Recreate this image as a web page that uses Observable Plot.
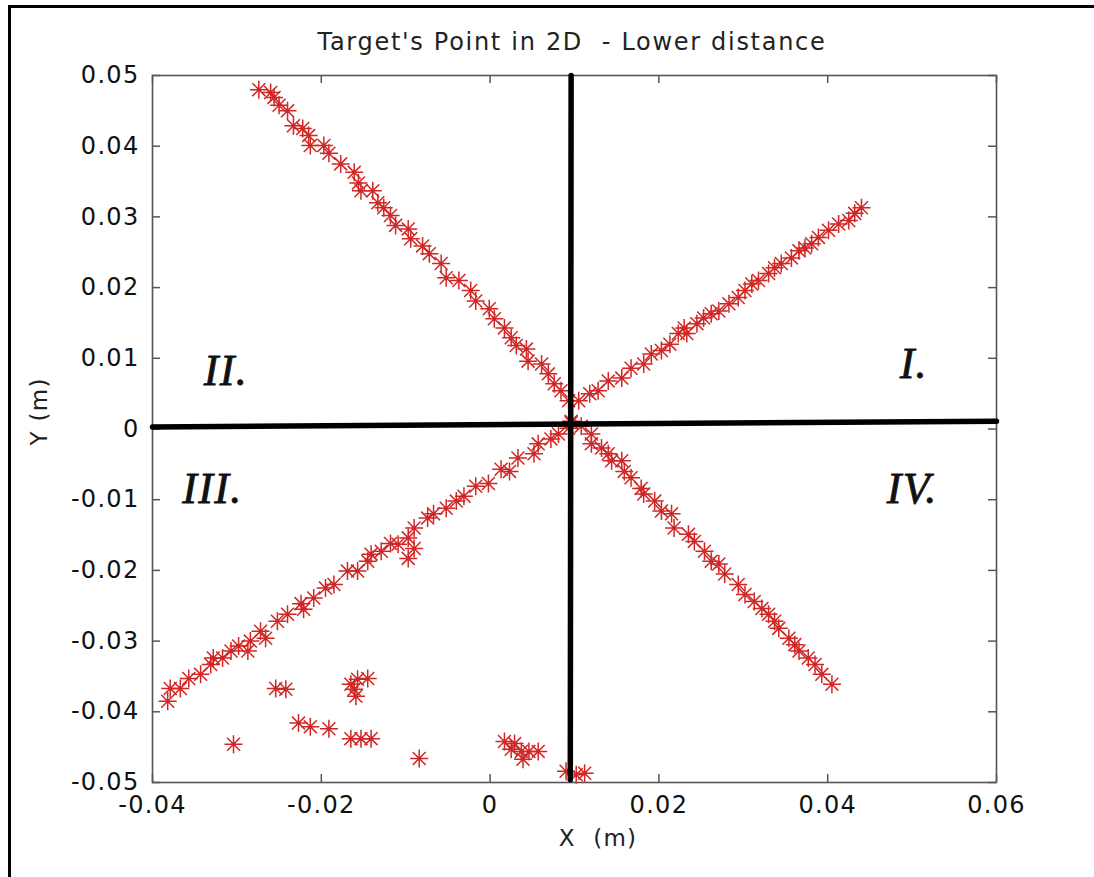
<!DOCTYPE html>
<html><head><meta charset="utf-8">
<script src="https://cdn.jsdelivr.net/npm/d3@7"></script>
<script src="https://cdn.jsdelivr.net/npm/@observablehq/plot@0.6"></script>
<style>
html,body{margin:0;padding:0;background:#fff;}
#wrap{position:relative;width:1094px;height:877px;overflow:hidden;background:#fff;}
#frame{position:absolute;left:8px;top:5px;width:1100px;height:900px;border-left:3px solid #000;border-top:3px solid #000;}
#chart{position:absolute;left:0;top:0;}
#title{position:absolute;left:0;width:1144px;top:28px;text-align:center;font-family:"DejaVu Sans";font-size:24px;letter-spacing:1.7px;white-space:pre;color:#222;}
</style></head>
<body><div id="wrap"><div id="frame"></div><div id="chart"></div><div id="title">Target's Point in 2D  - Lower distance</div></div>
<script>
// Quadrant I arm (upper right)
const armI = [[0.0105,0.0040],[0.0118,0.0050],[0.0128,0.0054],[0.0140,0.0068],[0.0156,0.0072],[0.0167,0.0086],[0.0182,0.0092],[0.0191,0.0106],[0.0203,0.0111],[0.0213,0.0120],[0.0223,0.0135],[0.0230,0.0143],[0.0233,0.0135],[0.0245,0.0149],[0.0253,0.0157],[0.0262,0.0163],[0.0271,0.0167],[0.0283,0.0177],[0.0294,0.0186],[0.0302,0.0196],[0.0310,0.0205],[0.0318,0.0210],[0.0330,0.0220],[0.0337,0.0228],[0.0345,0.0234],[0.0357,0.0242],[0.0366,0.0252],[0.0373,0.0256],[0.0381,0.0262],[0.0389,0.0271],[0.0401,0.0281],[0.0413,0.0290],[0.0425,0.0295],[0.0432,0.0305],[0.0440,0.0313]];
// Quadrant II arm (upper left)
const armII = [[-0.0274,0.0480],[-0.0260,0.0476],[-0.0256,0.0469],[-0.0250,0.0458],[-0.0240,0.0450],[-0.0233,0.0429],[-0.0222,0.0425],[-0.0215,0.0415],[-0.0213,0.0401],[-0.0197,0.0401],[-0.0191,0.0390],[-0.0177,0.0375],[-0.0161,0.0363],[-0.0156,0.0348],[-0.0153,0.0337],[-0.0139,0.0337],[-0.0133,0.0320],[-0.0126,0.0313],[-0.0118,0.0302],[-0.0112,0.0288],[-0.0097,0.0283],[-0.0094,0.0269],[-0.0080,0.0259],[-0.0072,0.0248],[-0.0058,0.0234],[-0.0052,0.0214],[-0.0037,0.0210],[-0.0023,0.0196],[-0.0017,0.0181],[-0.0001,0.0170],[0.0005,0.0156],[0.0017,0.0143],[0.0025,0.0129],[0.0031,0.0118],[0.0043,0.0113],[0.0045,0.0096],[0.0061,0.0092],[0.0069,0.0078],[0.0076,0.0064],[0.0084,0.0054],[0.0093,0.0040]];
// Quadrant III arm (lower left)
const armIII = [[-0.0382,-0.0385],[-0.0379,-0.0367],[-0.0367,-0.0367],[-0.0357,-0.0353],[-0.0343,-0.0347],[-0.0331,-0.0333],[-0.0328,-0.0324],[-0.0317,-0.0324],[-0.0307,-0.0314],[-0.0298,-0.0307],[-0.0287,-0.0314],[-0.0284,-0.0300],[-0.0272,-0.0286],[-0.0266,-0.0296],[-0.0252,-0.0272],[-0.0240,-0.0262],[-0.0224,-0.0247],[-0.0221,-0.0255],[-0.0209,-0.0239],[-0.0195,-0.0225],[-0.0185,-0.0220],[-0.0169,-0.0201],[-0.0157,-0.0201],[-0.0145,-0.0187],[-0.0141,-0.0177],[-0.0129,-0.0173],[-0.0118,-0.0162],[-0.0109,-0.0163],[-0.0097,-0.0154],[-0.0097,-0.0183],[-0.0090,-0.0169],[-0.0090,-0.0140],[-0.0074,-0.0126],[-0.0067,-0.0120],[-0.0052,-0.0112],[-0.0040,-0.0102],[-0.0031,-0.0095],[-0.0017,-0.0081],[-0.0002,-0.0077],[0.0013,-0.0057],[0.0023,-0.0060],[0.0033,-0.0041],[0.0052,-0.0035],[0.0057,-0.0021],[0.0072,-0.0014],[0.0081,-0.0007],[0.0093,0.0001],[0.0096,0.0011]];
// Quadrant IV arm (lower right)
const armIV = [[0.0096,0.0009],[0.0108,0.0004],[0.0120,-0.0007],[0.0120,-0.0021],[0.0132,-0.0027],[0.0140,-0.0035],[0.0144,-0.0045],[0.0156,-0.0045],[0.0159,-0.0060],[0.0167,-0.0069],[0.0179,-0.0084],[0.0182,-0.0092],[0.0195,-0.0102],[0.0203,-0.0116],[0.0215,-0.0120],[0.0218,-0.0140],[0.0235,-0.0149],[0.0242,-0.0159],[0.0254,-0.0173],[0.0262,-0.0187],[0.0271,-0.0191],[0.0278,-0.0205],[0.0294,-0.0220],[0.0302,-0.0234],[0.0313,-0.0244],[0.0322,-0.0254],[0.0330,-0.0262],[0.0337,-0.0272],[0.0342,-0.0282],[0.0354,-0.0296],[0.0361,-0.0305],[0.0366,-0.0314],[0.0377,-0.0324],[0.0385,-0.0333],[0.0393,-0.0347],[0.0405,-0.0361]];
// Scattered points (lower area)
const scattered = [[-0.0254,-0.0367],[-0.0242,-0.0368],[-0.0304,-0.0446],[-0.0227,-0.0416],[-0.0213,-0.0421],[-0.0191,-0.0424],[-0.0165,-0.0438],[-0.0153,-0.0438],[-0.0141,-0.0438],[-0.0165,-0.0361],[-0.0157,-0.0354],[-0.0159,-0.0378],[-0.0145,-0.0353],[-0.0161,-0.0368],[-0.0084,-0.0466],[0.0017,-0.0442],[0.0029,-0.0445],[0.0025,-0.0453],[0.0037,-0.0456],[0.0046,-0.0456],[0.0057,-0.0456],[0.0039,-0.0467],[0.0090,-0.0484],[0.0112,-0.0487],[0.0102,-0.0489]];
// Hand-drawn quadrant axes
const hLine = [[-0.04,0.0003],[0.06,0.0011]];
const vLine = [[0.0096,0.05],[0.0095,-0.0496]];
// Tick values
const xTicks = [-0.04,-0.02,0,0.02,0.04,0.06];
const yTicks = [-0.05,-0.04,-0.03,-0.02,-0.01,0,0.01,0.02,0.03,0.04,0.05];
// Quadrant labels
const quadLabels = [{t:"I.",x:0.0502,y:0.0092},{t:"II.",x:-0.0313,y:0.0082},{t:"III.",x:-0.0329,y:-0.0085},{t:"IV.",x:0.0500,y:-0.0085}];

const fmt = d => d === 0 ? "0" : d.toFixed(2);
const star = {draw(ctx, size){const r=Math.sqrt(size/Math.PI);const d=r*0.72;ctx.moveTo(-r,0);ctx.lineTo(r,0);ctx.moveTo(0,-r);ctx.lineTo(0,r);ctx.moveTo(-d,-d);ctx.lineTo(d,d);ctx.moveTo(-d,d);ctx.lineTo(d,-d);}};
const allPts = [...armI, ...armII, ...armIII, ...armIV, ...scattered];
const tx = 0.00095, ty = 0.00113;

const chart = Plot.plot({
  width: 1094, height: 877,
  marginLeft: 152, marginRight: 98, marginTop: 75, marginBottom: 95,
  x: {domain: [-0.04, 0.06]},
  y: {domain: [-0.05, 0.05]},
  style: {fontFamily: "DejaVu Sans", fontSize: "24px", letterSpacing: "1.3px", color: "#111", background: "transparent", overflow: "visible"},
  marks: [
    Plot.frame({stroke: "#555", strokeWidth: 1.6}),
    Plot.axisX(xTicks, {tickSize: 0, tickPadding: 13, label: null, tickFormat: fmt}),
    Plot.axisY(yTicks, {tickSize: 0, tickPadding: 13, label: null, tickFormat: fmt}),
    Plot.ruleX(xTicks, {x: d => d, y1: -0.05, y2: -0.05 + ty, stroke: "#555", strokeWidth: 1.5}),
    Plot.ruleX(xTicks, {x: d => d, y1: 0.05, y2: 0.05 - ty, stroke: "#555", strokeWidth: 1.5}),
    Plot.ruleY(yTicks, {y: d => d, x1: -0.04, x2: -0.04 + tx, stroke: "#555", strokeWidth: 1.5}),
    Plot.ruleY(yTicks, {y: d => d, x1: 0.06, x2: 0.06 - tx, stroke: "#555", strokeWidth: 1.5}),
    Plot.dot(allPts, {x: d => d[0], y: d => d[1], symbol: star, r: 9, stroke: "#d02626", strokeWidth: 1.5, fill: "none"}),
    Plot.line(hLine, {x: d => d[0], y: d => d[1], stroke: "#000", strokeWidth: 5.5}),
    Plot.line(vLine, {x: d => d[0], y: d => d[1], stroke: "#000", strokeWidth: 5.5}),
    Plot.text(quadLabels, {x: "x", y: "y", text: "t", fontFamily: "Liberation Serif", fontStyle: "italic", fontSize: 44, textAnchor: "middle", lineAnchor: "middle", fill: "#111", stroke: "#111", strokeWidth: 0.8, style: "letter-spacing:0"}),
    Plot.text(["X\u00a0\u00a0(m)"], {x: 0.0128, frameAnchor: "bottom", dy: 56, text: d => d, fontSize: 23, textAnchor: "middle", lineAnchor: "middle", fill: "#222"}),
    Plot.text(["Y (m)"], {y: 0.0025, frameAnchor: "left", dx: -113, rotate: -90, text: d => d, fontSize: 23, textAnchor: "middle", lineAnchor: "middle", fill: "#222"})
  ]
});
document.getElementById("chart").appendChild(chart);
</script>
</body></html>
